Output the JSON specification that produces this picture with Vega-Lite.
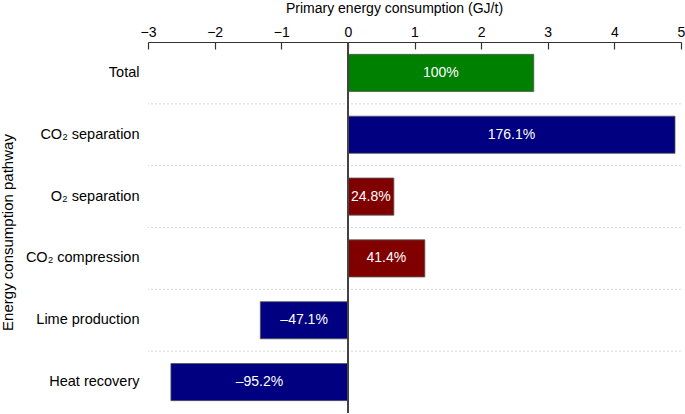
{
  "$schema": "https://vega.github.io/schema/vega-lite/v6.json",
  "width": 533,
  "height": 371,
  "autosize": {"type": "none"},
  "padding": {"left": 148, "top": 42, "right": 4, "bottom": 1},
  "background": "white",
  "config": {"view": {"stroke": null}, "font": "Liberation Sans"},
  "data": {
    "values": [
      {"pathway": "Total", "value": 2.79, "label": "100%", "kind": "total"},
      {"pathway": "CO₂ separation", "value": 4.91, "label": "176.1%", "kind": "blue"},
      {"pathway": "O₂ separation", "value": 0.69, "label": "24.8%", "kind": "red"},
      {"pathway": "CO₂ compression", "value": 1.155, "label": "41.4%", "kind": "red"},
      {"pathway": "Lime production", "value": -1.314, "label": "–47.1%", "kind": "blue"},
      {"pathway": "Heat recovery", "value": -2.656, "label": "–95.2%", "kind": "blue"}
    ]
  },
  "encoding": {
    "y": {
      "field": "pathway",
      "type": "nominal",
      "sort": null,
      "scale": {"paddingInner": 0, "paddingOuter": 0},
      "axis": {
        "title": "Energy consumption pathway",
        "titleFontSize": 15,
        "titleFontWeight": "normal",
        "titleColor": "black",
        "titleX": -136,
        "titleY": 190,
        "titleBaseline": "alphabetic",
        "labelFontSize": 14.5,
        "labelColor": "black",
        "labelPadding": 9,
        "ticks": false,
        "domain": false,
        "grid": false
      }
    }
  },
  "layer": [
    {
      "transform": [{"filter": "datum.pathway !== 'Heat recovery'"}],
      "mark": {"type": "rule", "color": "#cccccc", "strokeWidth": 0.8, "strokeDash": [2, 2]},
      "encoding": {
        "y": {"field": "pathway", "type": "nominal", "sort": null, "bandPosition": 1}
      }
    },
    {
      "mark": {"type": "bar", "height": {"band": 0.6}, "stroke": "#555555", "strokeWidth": 0.8},
      "encoding": {
        "x": {
          "field": "value",
          "type": "quantitative",
          "scale": {"domain": [-3, 5], "nice": false, "zero": false},
          "axis": {
            "orient": "top",
            "values": [-3, -2.5, -2, -1.5, -1, -0.5, 0, 0.5, 1, 1.5, 2, 2.5, 3, 3.5, 4, 4.5, 5],
            "format": "d",
            "labelExpr": "datum.value % 1 === 0 ? datum.label : ''",
            "tickSize": {"condition": {"test": "datum.value % 1 !== 0", "value": -3.5}, "value": -7},
            "tickColor": "#333333",
            "tickWidth": 1.2,
            "domainColor": "#333333",
            "domainWidth": 1.2,
            "labelFontSize": 14,
            "labelColor": "black",
            "labelPadding": 10,
            "labelFlush": false,
            "grid": false,
            "title": "Primary energy consumption (GJ/t)",
            "titleFontSize": 14,
            "titleFontWeight": "normal",
            "titleColor": "black",
            "titleX": 246,
            "titleY": -30,
            "titleBaseline": "alphabetic"
          }
        },
        "x2": {"datum": 0},
        "color": {
          "field": "kind",
          "type": "nominal",
          "scale": {"domain": ["total", "blue", "red"], "range": ["#008000", "#000080", "#800000"]},
          "legend": null
        }
      }
    },
    {
      "mark": {"type": "rule", "color": "#444444", "strokeWidth": 1.5},
      "encoding": {"x": {"datum": 0, "type": "quantitative"}, "y": null}
    },
    {
      "transform": [{"calculate": "datum.value / 2", "as": "mid"}],
      "mark": {"type": "text", "color": "white", "fontSize": 14, "align": "center", "baseline": "middle"},
      "encoding": {
        "x": {"field": "mid", "type": "quantitative"},
        "text": {"field": "label"}
      }
    }
  ]
}
